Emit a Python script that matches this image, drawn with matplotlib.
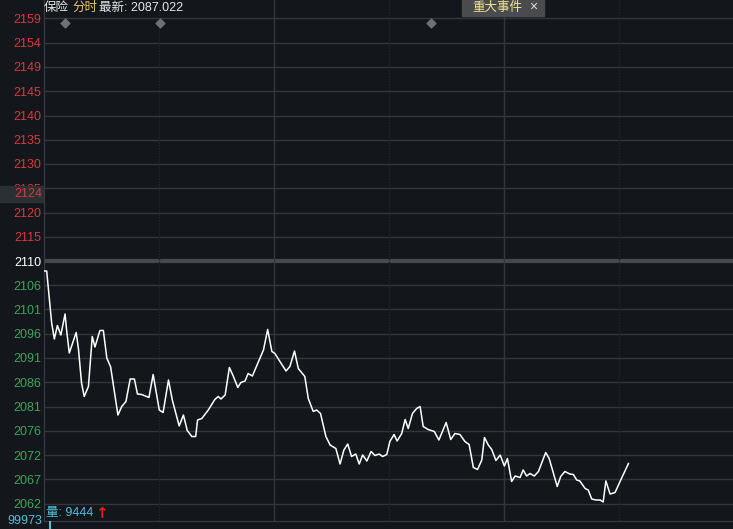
import matplotlib.pyplot as plt
import numpy as np

plt.rcParams['font.family'] = ['Liberation Sans', 'Noto Sans CJK SC', 'DejaVu Sans']

# minutes since open, index value
minutes = [0.0, 0.7, 2.0, 2.7, 3.5, 4.4, 5.5, 5.9, 6.6, 8.4, 9.0, 9.8, 10.5, 11.6, 12.6,
           13.3, 14.6, 15.5, 16.4, 17.4, 18.3, 19.3, 20.3, 21.4, 22.5, 23.6, 24.4, 25.5,
           27.4, 28.5, 30.1, 31.1, 32.5, 33.5, 35.3, 36.4, 37.4, 38.6, 39.6, 40.1, 41.2,
           42.9, 44.6, 45.5, 46.2, 47.3, 48.4, 49.4, 50.6, 51.4, 52.5, 53.3, 54.4, 56.2,
           57.3, 58.4, 59.5, 60.3, 61.6, 63.2, 64.2, 65.4, 66.4, 68.1, 69.0, 70.3, 71.2,
           72.2, 73.6, 74.7, 76.2, 77.3, 78.3, 79.3, 80.3, 81.4, 82.3, 83.2, 84.3, 85.4,
           86.4, 87.5, 88.4, 89.5, 90.3, 91.4, 92.2, 93.4, 94.3, 95.1, 96.2, 97.3, 98.2,
           99.0, 100.3, 101.9, 103.1, 105.0, 106.2, 107.3, 108.6, 109.9, 111.0, 112.1,
           113.2, 114.3, 115.0, 116.0, 116.9, 118.0, 119.1, 120.2, 121.0, 122.1, 123.0,
           124.3, 125.1, 126.0, 126.9, 128.0, 129.1, 131.0, 131.9, 134.0, 134.9, 136.0,
           137.3, 138.2, 139.1, 139.9, 141.3, 142.1, 143.0, 144.1, 145.2, 146.0, 146.7,
           147.8, 149.1, 150.4, 152.6]
prices = [2108.0, 2108.0, 2097.6, 2094.4, 2097.1, 2095.2, 2099.4, 2096.2, 2091.6, 2095.7,
          2092.4, 2085.6, 2082.9, 2084.9, 2094.9, 2092.8, 2096.1, 2096.1, 2090.6, 2088.8,
          2084.2, 2079.2, 2080.9, 2081.9, 2086.4, 2086.4, 2083.4, 2083.3, 2082.7, 2087.3,
          2080.2, 2079.7, 2086.2, 2082.2, 2077.0, 2079.2, 2076.1, 2074.9, 2074.9, 2078.2,
          2078.5, 2080.2, 2082.3, 2082.9, 2082.4, 2083.2, 2088.7, 2087.0, 2084.7, 2085.7,
          2086.0, 2087.5, 2087.0, 2090.2, 2092.2, 2096.3, 2091.9, 2091.5, 2089.9, 2088.0,
          2088.9, 2092.0, 2088.5, 2086.9, 2082.5, 2079.9, 2080.2, 2079.5, 2074.9, 2073.2,
          2072.5, 2069.4, 2072.2, 2073.4, 2070.9, 2071.4, 2069.4, 2071.2, 2070.0, 2071.9,
          2071.1, 2071.4, 2070.9, 2071.3, 2073.9, 2075.3, 2074.0, 2075.5, 2078.3, 2076.5,
          2079.5, 2080.5, 2080.9, 2076.9, 2076.3, 2075.9, 2074.2, 2077.7, 2074.3, 2075.5,
          2075.3, 2073.9, 2073.3, 2068.7, 2068.3, 2070.2, 2074.7, 2073.2, 2072.3, 2070.1,
          2071.2, 2069.0, 2070.5, 2065.9, 2067.0, 2066.7, 2068.2, 2067.0, 2067.5, 2067.0,
          2067.9, 2071.7, 2070.5, 2064.9, 2066.9, 2067.9, 2067.4, 2067.3, 2066.2, 2066.0,
          2064.5, 2064.2, 2062.4, 2062.2, 2062.2, 2061.8, 2066.0, 2063.4, 2063.7, 2065.9,
          2069.5]

pre_close = 2110.0
step = 4.85
tick_labels = ['2062', '2067', '2072', '2076', '2081', '2086', '2091', '2096', '2101', '2106',
               '2110', '2115', '2120', '2125', '2130', '2135', '2140', '2145', '2149', '2154', '2159']
event_minutes = [5.5, 30.3, 101.0]

bg = '#13171c'
grid = '#33373c'
red = '#d8383c'
green = '#3aa55a'
cyan = '#4fc1dc'

W, H = 733, 529
fig = plt.figure(figsize=(W / 100, H / 100), dpi=100, facecolor=bg)
ax = fig.add_axes([44 / W, 8 / H, 689 / W, 521 / H])
ax.set_facecolor(bg)

ticks = [pre_close + step * k for k in range(-10, 11)]
for v in ticks:
    if v == pre_close:
        ax.axhline(v, color='#464a50', lw=3, zorder=1)
    else:
        ax.axhline(v, color=grid, lw=1, zorder=1)
for m in [60, 120]:
    ax.axvline(m, color=grid, lw=1, zorder=1)
for m in [30, 90, 150]:
    ax.axvline(m, color='#22262b', lw=1, ls=(0, (1, 1)), zorder=1)

ax.plot(minutes, prices, color='white', lw=1.1, zorder=3)
ax.scatter(event_minutes, [2157.6] * len(event_minutes), marker='D', s=20, color='#6e7176', zorder=4)

ax.set_xlim(0, 689 / 3.83)
ax.set_ylim(2110 - 260 * 0.2, 2110 + 261 * 0.2)
ax.set_yticks(ticks)
ax.set_yticklabels(tick_labels, fontsize=9)
ax.tick_params(axis='y', length=0, pad=2)
ax.set_xticks([])
for lab, v in zip(ax.get_yticklabels(), ticks):
    if v > pre_close:
        lab.set_color(red)
    elif v < pre_close:
        lab.set_color(green)
    else:
        lab.set_color('white')
for s in ['top', 'right']:
    ax.spines[s].set_visible(False)
ax.spines['left'].set_color('#3a3e44')
ax.spines['bottom'].set_color('#3a3e44')

# highlighted price label (covers most of the 2125 tick label, as in the terminal)
fig.patches.append(plt.Rectangle((0, 1 - 202 / H), 43 / W, 16 / H, transform=fig.transFigure,
                                 color='#2b3035', zorder=2))
fig.text(42 / W, 1 - 194 / H, '2124', color=red, fontsize=9, ha='right', va='center', zorder=5)

# title
fig.text(44 / W, 1 - 8 / H, '保险', color='#e6e6e6', fontsize=9, va='center')
fig.text(72 / W, 1 - 8 / H, '分时', color='#e8c46a', fontsize=9, va='center')
fig.text(99 / W, 1 - 8 / H, '最新: 2087.022', color='#e6e6e6', fontsize=9, va='center')

# event button
fig.patches.append(plt.Rectangle((462 / W, 1 - 16 / H), 82 / W, 16 / H, transform=fig.transFigure,
                                 color='#4a4b4c', zorder=2))
fig.text(472 / W, 1 - 8 / H, '重大事件', color='#f0e68c', fontsize=9, va='center', zorder=5)
fig.text(533 / W, 1 - 7 / H, '×', color='#dddddd', fontsize=10, va='center', ha='center', zorder=5)

# volume area
vax = fig.add_axes([44 / W, 0, 689 / W, 8 / H])
vax.set_facecolor(bg)
vax.set_xlim(0, 689 / 3.83)
vax.set_ylim(0, 1)
vax.bar([1.5], [1], width=0.4, color=cyan)
vax.axis('off')
fig.text(46 / W, 1 - 513 / H, '量: 9444', color=cyan, fontsize=9, va='center')
fig.text(95 / W, 1 - 513 / H, '↑', color='#e02020', fontsize=11, va='center', fontweight='bold',
         family='DejaVu Sans')
fig.text(42 / W, 1 - 521 / H, '99973', color=cyan, fontsize=9, ha='right', va='center')

fig.savefig('out.png', dpi=100, facecolor=bg)
